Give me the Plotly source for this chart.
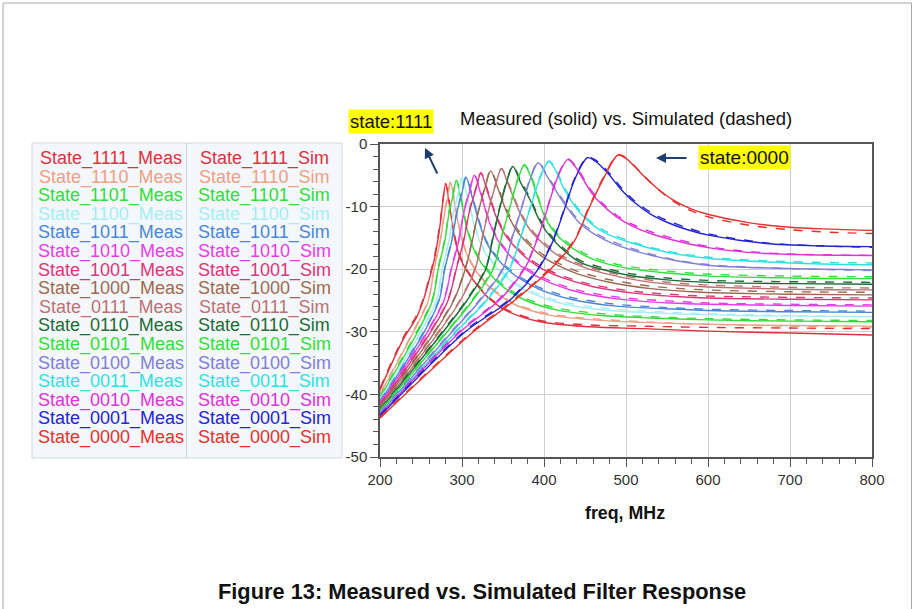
import plotly.graph_objects as go

# ---------------- data ----------------
STATES = ["1111", "1110", "1101", "1100", "1011", "1010", "1001", "1000",
          "0111", "0110", "0101", "0100", "0011", "0010", "0001", "0000"]

COLORS = ["#e0303c", "#eda084", "#30dd3a", "#a6eef6", "#4a86d8", "#e93be9",
          "#df3478", "#9c6a50", "#bb7272", "#1f6b36", "#2fe03a", "#8080d8",
          "#2fe2e2", "#e030d8", "#2424d4", "#e8302c"]

F_1111 = [200, 228, 245, 253, 261, 267, 273, 277, 280, 285, 291, 298, 306, 320, 334, 355, 395, 456, 520, 600, 700, 800]
MEAS_1111 = [-39.3, -31.3, -27.6, -24.9, -21.2, -18.0, -13.2, -8.9, -6.4, -10.0, -15.0, -18.3, -20.3, -22.8, -24.8, -26.7, -28.4, -29.2, -29.5, -29.9, -30.2, -30.5]
SIM_1111 = [-39.0, -31.0, -27.3, -24.6, -20.9, -17.6, -12.8, -8.6, -6.3, -9.6, -14.6, -18.0, -20.1, -22.6, -24.6, -26.5, -28.2, -28.9, -29.1, -29.3, -29.4, -29.5]

F_1110 = [200, 241, 259, 266, 273.5, 279, 282.5, 286, 291, 298, 306, 315, 330, 345, 367, 405, 460, 520, 600, 700, 800]
MEAS_1110 = [-40.0, -30.0, -25.0, -20.0, -15.5, -10.8, -8.6, -6.1, -9.5, -14.3, -17.7, -19.9, -22.4, -24.1, -25.8, -27.3, -28.1, -28.5, -28.8, -29.0, -29.1]
SIM_1110 = [-39.8, -29.8, -24.8, -19.8, -15.2, -10.5, -8.4, -6.0, -9.2, -14.0, -17.5, -19.7, -22.2, -23.9, -25.6, -27.1, -27.9, -28.4, -28.8, -29.1, -29.3]

F_1101 = [200, 246, 264, 271, 279, 284.5, 289, 293, 299, 306, 315, 324, 340, 356, 378, 415, 470, 530, 600, 700, 800]
MEAS_1101 = [-40.5, -30.0, -25.0, -20.0, -15.5, -10.8, -8.3, -5.8, -9.0, -13.5, -17.0, -19.1, -21.6, -23.4, -25.0, -26.5, -27.4, -27.8, -28.1, -28.3, -28.4]
SIM_1101 = [-40.3, -29.7, -24.7, -19.7, -15.2, -10.5, -8.1, -5.7, -8.7, -13.2, -16.7, -18.8, -21.3, -23.1, -24.7, -26.2, -27.1, -27.6, -27.9, -28.1, -28.2]

F_1100 = [200, 250, 269, 276, 284, 290, 295.5, 300, 307, 315, 324, 334, 350, 366, 388, 425, 480, 540, 600, 700, 800]
MEAS_1100 = [-40.9, -30.0, -25.0, -20.0, -15.5, -10.8, -8.0, -5.5, -8.7, -13.0, -16.3, -18.5, -20.8, -22.5, -24.0, -25.6, -26.6, -27.0, -27.3, -27.5, -27.6]
SIM_1100 = [-40.7, -29.8, -24.8, -19.8, -15.3, -10.6, -7.8, -5.4, -8.5, -12.7, -16.0, -18.2, -20.5, -22.2, -23.7, -25.3, -26.3, -26.8, -27.1, -27.4, -27.6]

F_1011 = [200, 254, 272, 279, 287.5, 294, 300, 305, 312, 321, 330, 341, 357, 374, 396, 433, 488, 545, 600, 700, 800]
MEAS_1011 = [-41.2, -30.0, -25.0, -20.0, -15.5, -10.8, -7.8, -5.3, -8.3, -12.6, -15.8, -18.0, -20.2, -21.8, -23.3, -24.8, -25.9, -26.3, -26.6, -26.8, -26.9]
SIM_1011 = [-41.0, -29.8, -24.8, -19.8, -15.3, -10.6, -7.6, -5.2, -8.0, -12.3, -15.5, -17.7, -19.9, -21.5, -23.0, -24.5, -25.6, -26.1, -26.4, -26.6, -26.7]

F_1010 = [200, 258, 278, 287, 296, 302.5, 309.5, 315, 323, 332, 342, 354, 370, 388, 410, 446, 500, 555, 600, 700, 800]
MEAS_1010 = [-41.5, -30.0, -25.0, -20.0, -15.5, -10.8, -7.5, -5.0, -8.0, -12.0, -15.0, -17.2, -19.3, -20.9, -22.3, -23.8, -24.9, -25.4, -25.6, -25.8, -25.9]
SIM_1010 = [-41.3, -29.8, -24.8, -19.8, -15.3, -10.6, -7.3, -4.9, -7.7, -11.7, -14.7, -16.9, -19.0, -20.6, -22.0, -23.5, -24.6, -25.1, -25.4, -25.6, -25.7]

F_1001 = [200, 262, 283, 293, 302, 309, 317, 323, 331, 341, 352, 365, 382, 400, 423, 460, 515, 565, 600, 700, 800]
MEAS_1001 = [-41.8, -30.0, -25.0, -20.0, -15.5, -10.8, -7.2, -4.7, -7.6, -11.4, -14.4, -16.5, -18.6, -20.1, -21.4, -22.8, -23.9, -24.4, -24.6, -24.8, -24.9]
SIM_1001 = [-41.6, -29.8, -24.8, -19.8, -15.3, -10.6, -7.0, -4.6, -7.3, -11.1, -14.1, -16.2, -18.3, -19.8, -21.1, -22.5, -23.6, -24.1, -24.3, -24.5, -24.6]

F_1000 = [200, 267, 290, 304, 312.5, 320, 328.5, 335, 344, 355, 367, 381, 398, 417, 440, 477, 530, 580, 620, 700, 800]
MEAS_1000 = [-42.0, -30.0, -25.0, -20.0, -15.5, -10.8, -6.8, -4.3, -7.2, -11.0, -13.9, -16.0, -18.0, -19.4, -20.7, -22.0, -23.1, -23.6, -23.8, -24.0, -24.1]
SIM_1000 = [-41.8, -29.8, -24.8, -19.8, -15.3, -10.6, -6.6, -4.2, -6.9, -10.6, -13.5, -15.6, -17.6, -19.0, -20.3, -21.6, -22.7, -23.2, -23.4, -23.6, -23.7]

F_0111 = [200, 272, 298, 316, 324, 332, 341, 348, 358, 370, 383, 398, 416, 435, 458, 495, 545, 595, 640, 700, 800]
MEAS_0111 = [-42.3, -30.0, -25.0, -20.0, -15.5, -10.8, -6.5, -4.0, -7.0, -10.8, -13.7, -15.8, -17.7, -19.0, -20.1, -21.3, -22.3, -22.8, -23.0, -23.2, -23.3]
SIM_0111 = [-42.1, -29.8, -24.8, -19.8, -15.3, -10.6, -6.3, -3.9, -6.7, -10.5, -13.4, -15.5, -17.4, -18.7, -19.8, -21.0, -22.0, -22.5, -22.7, -22.9, -23.0]

F_0110 = [200, 277, 306, 329, 337, 345, 354.5, 362, 372, 383, 393, 403, 420, 444, 470, 505, 550, 602, 700, 800]
MEAS_0110 = [-42.5, -30.0, -25.0, -20.0, -15.5, -10.8, -6.1, -3.6, -6.3, -8.9, -11.8, -14.0, -16.5, -18.9, -20.0, -21.0, -21.7, -22.1, -22.3, -22.4]
SIM_0110 = [-42.3, -29.8, -24.8, -19.8, -15.3, -10.6, -5.9, -3.5, -6.0, -8.6, -11.5, -13.7, -16.2, -18.6, -19.7, -20.7, -21.4, -21.8, -22.0, -22.1]

F_0101 = [200, 282, 313, 338, 347, 357, 367.5, 376, 385, 391, 403, 420, 448, 476, 505, 550, 602, 700, 800]
MEAS_0101 = [-42.7, -30.0, -25.0, -20.0, -15.5, -10.8, -5.9, -3.4, -5.6, -8.0, -12.2, -15.1, -17.7, -19.1, -19.9, -20.6, -21.1, -21.4, -21.5]
SIM_0101 = [-42.5, -29.8, -24.8, -19.8, -15.3, -10.6, -5.7, -3.3, -5.3, -7.7, -11.9, -14.8, -17.4, -18.8, -19.6, -20.3, -20.8, -21.1, -21.2]

F_0100 = [200, 288, 322, 350, 360, 371.5, 383.5, 393, 403, 416, 430, 444, 464, 484, 525, 560, 602, 700, 800]
MEAS_0100 = [-43.0, -30.0, -25.0, -20.0, -15.5, -10.8, -5.5, -3.0, -5.0, -7.8, -10.5, -12.7, -14.6, -15.9, -17.6, -18.6, -19.4, -19.9, -20.1]
SIM_0100 = [-42.8, -29.8, -24.8, -19.8, -15.3, -10.6, -5.3, -2.9, -4.8, -7.5, -10.2, -12.4, -14.3, -15.6, -17.4, -18.5, -19.3, -19.9, -20.2]

F_0011 = [200, 293, 330, 358, 370, 382, 395.5, 406, 415, 423, 434, 444, 460, 476, 509, 550, 602, 700, 800]
MEAS_0011 = [-43.2, -30.0, -25.0, -20.0, -15.5, -10.8, -5.3, -2.8, -4.4, -6.8, -9.2, -11.0, -13.0, -14.3, -15.9, -17.3, -18.3, -19.0, -19.3]
SIM_0011 = [-43.0, -29.8, -24.8, -19.8, -15.3, -10.6, -5.1, -2.7, -4.2, -6.5, -8.9, -10.7, -12.7, -14.0, -15.7, -17.1, -18.1, -18.8, -19.0]

F_0010 = [200, 298, 345, 376, 391, 403, 416, 429, 438, 448, 458, 470, 488, 509, 530, 550, 602, 671, 800]
MEAS_0010 = [-43.3, -30.0, -25.0, -20.0, -15.5, -10.8, -5.5, -2.5, -3.6, -5.7, -7.8, -9.6, -11.6, -13.2, -14.3, -15.1, -16.6, -17.5, -17.8]
SIM_0010 = [-43.1, -29.8, -24.8, -19.8, -15.3, -10.6, -5.3, -2.4, -3.4, -5.4, -7.5, -9.3, -11.3, -12.9, -14.0, -14.8, -16.4, -17.4, -17.8]

F_0001 = [200, 304, 358, 393, 411, 424, 438, 453, 462, 470, 480, 493, 509, 530, 550, 575, 602, 671, 740, 800]
MEAS_0001 = [-43.5, -30.0, -25.0, -20.0, -15.5, -10.8, -5.5, -2.2, -2.7, -3.6, -5.0, -7.1, -9.2, -11.2, -12.5, -13.7, -14.6, -15.9, -16.3, -16.4]
SIM_0001 = [-43.3, -29.8, -24.8, -19.8, -15.3, -10.6, -5.3, -2.1, -2.5, -3.3, -4.7, -6.8, -8.9, -10.9, -12.2, -13.4, -14.4, -15.8, -16.3, -16.5]

F_0000 = [200, 314, 364, 408, 437, 455, 473, 490, 500, 509, 520, 533, 548, 562, 580, 602, 651, 700, 750, 800]
MEAS_0000 = [-43.8, -30.0, -25.0, -20.0, -15.5, -10.2, -5.4, -1.8, -2.3, -3.4, -4.9, -6.5, -8.1, -9.3, -10.4, -11.3, -12.6, -13.3, -13.6, -13.8]
SIM_0000 = [-43.6, -29.8, -24.8, -19.8, -15.3, -10.0, -5.2, -1.7, -2.2, -3.3, -4.8, -6.5, -8.2, -9.5, -10.7, -11.7, -13.0, -13.7, -14.1, -14.3]

FREQS = [F_1111, F_1110, F_1101, F_1100, F_1011, F_1010, F_1001, F_1000,
         F_0111, F_0110, F_0101, F_0100, F_0011, F_0010, F_0001, F_0000]
MEAS = [MEAS_1111, MEAS_1110, MEAS_1101, MEAS_1100, MEAS_1011, MEAS_1010, MEAS_1001, MEAS_1000,
        MEAS_0111, MEAS_0110, MEAS_0101, MEAS_0100, MEAS_0011, MEAS_0010, MEAS_0001, MEAS_0000]
SIM = [SIM_1111, SIM_1110, SIM_1101, SIM_1100, SIM_1011, SIM_1010, SIM_1001, SIM_1000,
       SIM_0111, SIM_0110, SIM_0101, SIM_0100, SIM_0011, SIM_0010, SIM_0001, SIM_0000]

X_TICKS = [200, 300, 400, 500, 600, 700, 800]
Y_TICKS = [0, -10, -20, -30, -40, -50]

TITLE = "Measured (solid) vs. Simulated (dashed)"
X_TITLE = "freq, MHz"
CAPTION = "Figure 13: Measured vs. Simulated Filter Response"

# ---------------- layout geometry ----------------
W, H = 915, 609
PL, PR, PT, PB = 380, 872, 144, 457   # plot area in pixels
FONT = "Liberation Sans, Arial, Helvetica, sans-serif"


def px2x(px):
    return (px - PL) / (PR - PL)


def py2y(py):
    return (PB - py) / (PB - PT)


fig = go.Figure()

for st, col, f, m, s in zip(STATES, COLORS, FREQS, MEAS, SIM):
    fig.add_trace(go.Scatter(x=f, y=s, mode="lines", name="State_%s_Sim" % st,
                             line=dict(color=col, width=1.4, dash="dash", shape="spline", smoothing=0.9),
                             showlegend=False, hoverinfo="skip"))
    fig.add_trace(go.Scatter(x=f, y=m, mode="lines", name="State_%s_Meas" % st,
                             line=dict(color=col, width=1.4, shape="spline", smoothing=0.9),
                             showlegend=False, hoverinfo="skip"))

shapes = []
# outer page frame
shapes.append(dict(type="rect", xref="paper", yref="paper",
                   x0=px2x(3), x1=px2x(911.5), y0=py2y(640), y1=py2y(3),
                   line=dict(color="#a8a8a8", width=1), fillcolor="rgba(0,0,0,0)", layer="below"))
# legend panel
shapes.append(dict(type="rect", xref="paper", yref="paper",
                   x0=px2x(32), x1=px2x(342), y0=py2y(458), y1=py2y(143),
                   line=dict(color="#d3d8de", width=1), fillcolor="#f4f7fb", layer="below"))
shapes.append(dict(type="line", xref="paper", yref="paper",
                   x0=px2x(186.5), x1=px2x(186.5), y0=py2y(458), y1=py2y(143),
                   line=dict(color="#c9cfd6", width=1)))

annotations = []
row0, dy = 158.5, 18.6
for i, (st, col) in enumerate(zip(STATES, COLORS)):
    yy = py2y(row0 + i * dy)
    annotations.append(dict(text="State_%s_Meas" % st, x=px2x(110.5), y=yy, xref="paper", yref="paper",
                            showarrow=False, xanchor="center", yanchor="middle",
                            font=dict(family=FONT, size=18, color=col)))
    annotations.append(dict(text="State_%s_Sim" % st, x=px2x(264), y=yy, xref="paper", yref="paper",
                            showarrow=False, xanchor="center", yanchor="middle",
                            font=dict(family=FONT, size=18, color=col)))

# title
annotations.append(dict(text=TITLE, x=px2x(625.5), y=py2y(118.5), xref="paper", yref="paper",
                        showarrow=False, xanchor="center", yanchor="middle",
                        font=dict(family=FONT, size=18.5, color="#111111")))
# state labels
annotations.append(dict(text="state:1111", x=px2x(391), y=py2y(121), xref="paper", yref="paper",
                        showarrow=False, xanchor="center", yanchor="middle", bgcolor="#ffff00",
                        borderpad=1, font=dict(family=FONT, size=18.5, color="#111111")))
annotations.append(dict(text="state:0000", x=px2x(744), y=py2y(157), xref="paper", yref="paper",
                        showarrow=False, xanchor="center", yanchor="middle", bgcolor="#ffff00",
                        borderpad=1, font=dict(family=FONT, size=19, color="#111111")))
# arrows
annotations.append(dict(text="", x=px2x(425), y=py2y(148), xref="paper", yref="paper",
                        showarrow=True, ax=13, ay=27, arrowhead=2, arrowsize=1, arrowwidth=2,
                        arrowcolor="#1d3e6e"))
annotations.append(dict(text="", x=px2x(656), y=py2y(158), xref="paper", yref="paper",
                        showarrow=True, ax=32, ay=0, arrowhead=2, arrowsize=1, arrowwidth=2,
                        arrowcolor="#1d3e6e"))
# x-axis title
annotations.append(dict(text="<b>%s</b>" % X_TITLE, x=px2x(625), y=py2y(513), xref="paper", yref="paper",
                        showarrow=False, xanchor="center", yanchor="middle",
                        font=dict(family=FONT, size=17.8, color="#111111")))
# caption
annotations.append(dict(text="<b>%s</b>" % CAPTION, x=px2x(482), y=py2y(591), xref="paper", yref="paper",
                        showarrow=False, xanchor="center", yanchor="middle",
                        font=dict(family=FONT, size=21.8, color="#111111")))

fig.update_layout(
    width=W, height=H,
    margin=dict(l=PL, r=W - PR, t=PT, b=H - PB, pad=0),
    paper_bgcolor="white", plot_bgcolor="white",
    font=dict(family=FONT, color="#333333"),
    shapes=shapes, annotations=annotations,
    showlegend=False,
)
fig.update_xaxes(range=[200, 800], tickvals=X_TICKS, ticktext=[str(v) for v in X_TICKS],
                 ticks="outside", ticklen=8, tickwidth=1, tickcolor="#555555",
                 minor=dict(dtick=20, ticks="outside", ticklen=5, tickcolor="#555555", showgrid=False),
                 showline=True, linecolor="#555555", linewidth=1.5, mirror=True,
                 showgrid=True, gridcolor="#cfcfcf", gridwidth=1,
                 tickfont=dict(family=FONT, size=15, color="#333333"), zeroline=False)
fig.update_yaxes(range=[-50, 0], tickvals=Y_TICKS, ticktext=[str(v) for v in Y_TICKS],
                 ticks="outside", ticklen=8, tickwidth=1, tickcolor="#555555",
                 minor=dict(dtick=2, ticks="outside", ticklen=5, tickcolor="#555555", showgrid=False),
                 showline=True, linecolor="#555555", linewidth=1.5, mirror=True,
                 showgrid=True, gridcolor="#cfcfcf", gridwidth=1,
                 tickfont=dict(family=FONT, size=15, color="#333333"), zeroline=False)

fig.write_html("out.html")
